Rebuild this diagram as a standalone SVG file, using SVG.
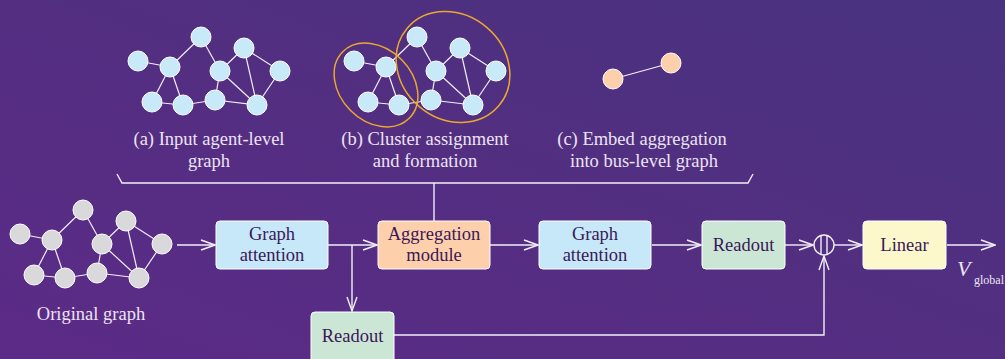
<svg xmlns="http://www.w3.org/2000/svg" width="1005" height="359" viewBox="0 0 1005 359" font-family="Liberation Serif, serif">
  <defs>
    <linearGradient id="bg" x1="0" y1="1" x2="1" y2="0">
      <stop offset="0" stop-color="#5c2b87"/>
      <stop offset="0.5" stop-color="#532e81"/>
      <stop offset="1" stop-color="#48327f"/>
    </linearGradient>
    <marker id="arr" viewBox="0 0 16 12" markerWidth="16" markerHeight="12" refX="15" refY="6" orient="auto" markerUnits="userSpaceOnUse">
      <path d="M1,1 L15,6 L1,11" fill="none" stroke="#f2eef8" stroke-width="1.4"/>
    </marker>
    <!-- shared ten-node topology; node fill is inherited from the <use> -->
    <g id="graph">
      <g class="edges">
        <line x1="0" y1="0" x2="32" y2="6"/>
        <line x1="32" y1="6" x2="63" y2="-24"/>
        <line x1="63" y1="-24" x2="82" y2="10"/>
        <line x1="82" y1="10" x2="106" y2="-13"/>
        <line x1="106" y1="-13" x2="142" y2="10"/>
        <line x1="32" y1="6" x2="14" y2="41"/>
        <line x1="32" y1="6" x2="45" y2="44"/>
        <line x1="14" y1="41" x2="45" y2="44"/>
        <line x1="45" y1="44" x2="77" y2="39"/>
        <line x1="77" y1="39" x2="82" y2="10"/>
        <line x1="82" y1="10" x2="119" y2="44"/>
        <line x1="106" y1="-13" x2="119" y2="44"/>
        <line x1="142" y1="10" x2="119" y2="44"/>
        <line x1="77" y1="39" x2="119" y2="44"/>
      </g>
      <g class="nodes" stroke="#ffffff" stroke-width="1">
        <circle cx="0" cy="0" r="10"/>
        <circle cx="63" cy="-24" r="10"/>
        <circle cx="32" cy="6" r="10"/>
        <circle cx="106" cy="-13" r="10"/>
        <circle cx="82" cy="10" r="10"/>
        <circle cx="142" cy="10" r="10"/>
        <circle cx="14" cy="41" r="10"/>
        <circle cx="45" cy="44" r="10"/>
        <circle cx="77" cy="39" r="10"/>
        <circle cx="119" cy="44" r="10"/>
      </g>
    </g>
  </defs>
  <style>
    .edges line { stroke: #f2eef8; stroke-width: 1.2; }
    .cluster { fill: none; stroke: #eaa92e; stroke-width: 1.5; }
    .cap { font-family: 'Liberation Serif', serif; font-size: 18.5px; fill: #ece4f4; text-anchor: middle; }
    .box { stroke: #ffffff; stroke-width: 1; }
    .lbl { font-family: 'Liberation Serif', serif; font-size: 18.5px; fill: #3a1858; text-anchor: middle; }
    .conn { fill: none; stroke: #f2eef8; stroke-width: 1.4; }
  </style>

  <rect width="1005" height="359" fill="url(#bg)"/>

  <!-- (a) input agent-level graph -->
  <g id="graph-a">
    <use href="#graph" x="138" y="61" fill="#c8e9f8"/>
    <text class="cap" x="209" y="145">(a) Input agent-level</text>
    <text class="cap" x="209" y="167">graph</text>
  </g>

  <!-- (b) cluster assignment -->
  <g id="graph-b">
    <use href="#graph" x="354" y="61" fill="#c8e9f8"/>
    <ellipse class="cluster" cx="376" cy="85" rx="47" ry="36" transform="rotate(45 376 85)"/>
    <ellipse class="cluster" cx="453" cy="67" rx="60" ry="52" transform="rotate(40 453 67)"/>
    <text class="cap" x="425" y="145">(b) Cluster assignment</text>
    <text class="cap" x="425" y="167">and formation</text>
  </g>

  <!-- (c) bus-level graph -->
  <g id="graph-c">
    <line x1="613" y1="79" x2="671" y2="63" stroke="#f2eef8" stroke-width="1.2"/>
    <circle cx="613" cy="79" r="10" fill="#fdd0ab" stroke="#ffffff" stroke-width="1"/>
    <circle cx="671" cy="63" r="10" fill="#fdd0ab" stroke="#ffffff" stroke-width="1"/>
    <text class="cap" x="642" y="145">(c) Embed aggregation</text>
    <text class="cap" x="644" y="167">into bus-level graph</text>
  </g>

  <!-- original graph -->
  <g id="original-graph">
    <use href="#graph" x="20" y="234" fill="#d9d9dc"/>
    <text class="cap" x="91" y="320">Original graph</text>
  </g>

  <!-- pipeline blocks -->
  <g id="gat1">
    <rect class="box" x="216" y="221" width="112" height="48" rx="4" fill="#c6e8f8"/>
    <text class="lbl" x="272" y="240">Graph</text>
    <text class="lbl" x="272" y="261">attention</text>
  </g>
  <g id="aggregation">
    <rect class="box" x="378" y="221" width="112" height="48" rx="4" fill="#fdd0ab"/>
    <text class="lbl" x="434" y="240">Aggregation</text>
    <text class="lbl" x="434" y="261">module</text>
  </g>
  <g id="gat2">
    <rect class="box" x="539" y="221" width="112" height="48" rx="4" fill="#c6e8f8"/>
    <text class="lbl" x="595" y="240">Graph</text>
    <text class="lbl" x="595" y="261">attention</text>
  </g>
  <g id="readout1">
    <rect class="box" x="702" y="221" width="83" height="48" rx="4" fill="#cce6d6"/>
    <text class="lbl" x="743.5" y="251">Readout</text>
  </g>
  <g id="readout2">
    <rect class="box" x="311" y="312" width="83" height="52" rx="4" fill="#cce6d6"/>
    <text class="lbl" x="352.5" y="342">Readout</text>
  </g>
  <g id="concat">
    <circle cx="824" cy="245" r="10" fill="none" stroke="#f2eef8" stroke-width="1.4"/>
    <line x1="821" y1="235.5" x2="821" y2="254.5" stroke="#f2eef8" stroke-width="1.4"/>
    <line x1="827" y1="235.5" x2="827" y2="254.5" stroke="#f2eef8" stroke-width="1.4"/>
  </g>
  <g id="linear">
    <rect class="box" x="863" y="221" width="83" height="48" rx="4" fill="#fdf8cc"/>
    <text class="lbl" x="904.5" y="251">Linear</text>
  </g>
  <g id="output-label">
    <text x="957" y="276" font-size="22" font-style="italic" fill="#ece4f4">V</text>
    <text x="974" y="284" font-size="12" fill="#ece4f4">global</text>
  </g>

  <!-- connectors -->
  <g id="connectors">
    <path class="conn" d="M117,174 L122,183 L748,183 L753,174"/>
    <path class="conn" d="M434,183 L434,221"/>
    <path class="conn" d="M177,245 L215,245" marker-end="url(#arr)"/>
    <path class="conn" d="M328,245 L377,245" marker-end="url(#arr)"/>
    <path class="conn" d="M352,245 L352,311" marker-end="url(#arr)"/>
    <path class="conn" d="M490,245 L538,245" marker-end="url(#arr)"/>
    <path class="conn" d="M652,245 L701,245" marker-end="url(#arr)"/>
    <path class="conn" d="M785,245 L813,245" marker-end="url(#arr)"/>
    <path class="conn" d="M834,245 L862,245" marker-end="url(#arr)"/>
    <path class="conn" d="M947,245 L995,245" marker-end="url(#arr)"/>
    <path class="conn" d="M394,335 L824,335 L824,256" marker-end="url(#arr)"/>
  </g>
</svg>
